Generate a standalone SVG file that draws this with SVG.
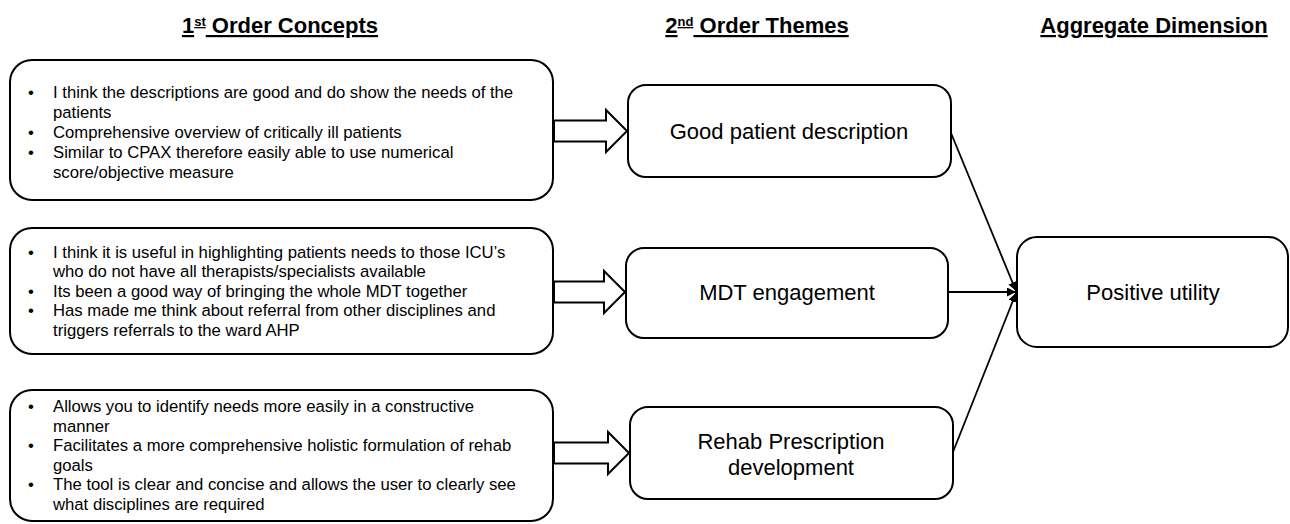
<svg xmlns="http://www.w3.org/2000/svg" width="1290" height="524" viewBox="0 0 1290 524">
<defs>
<style>
.box{fill:#fff;stroke:#000;stroke-width:2}
.hdr{font-family:"Liberation Sans",Arial,sans-serif;font-size:22px;font-weight:bold;text-anchor:middle;text-decoration:underline;fill:#000}
.sup{font-size:13px}
.body{font-family:"Liberation Sans",Arial,sans-serif;font-size:16.7px;fill:#000}
.lbl{font-family:"Liberation Sans",Arial,sans-serif;font-size:22px;fill:#000;text-anchor:middle}
.blk{fill:#fff;stroke:#000;stroke-width:2;stroke-linejoin:miter}
.con{fill:none;stroke:#000;stroke-width:1.8}
</style>
<marker id="ah" viewBox="0 0 10 10" refX="10" refY="5" markerWidth="5" markerHeight="5" orient="auto" markerUnits="strokeWidth">
<path d="M0,0 L10,5 L0,10 z" fill="#000"/>
</marker>
</defs>
<rect width="1290" height="524" fill="#fff"/>

<g id="headers">
<text class="hdr" x="280" y="33">1<tspan class="sup" dy="-7">st</tspan><tspan dy="7"> Order Concepts</tspan></text>
<text class="hdr" x="757" y="33">2<tspan class="sup" dy="-7">nd</tspan><tspan dy="7"> Order Themes</tspan></text>
<text class="hdr" x="1154" y="33">Aggregate Dimension</text>
</g>

<g id="concepts1">
<rect class="box" x="10" y="60" width="543" height="140" rx="22"/>
<text class="body">
<tspan x="28" y="98">•</tspan><tspan x="53" y="98">I think the descriptions are good and do show the needs of the</tspan>
<tspan x="53" y="118">patients</tspan>
<tspan x="28" y="138">•</tspan><tspan x="53" y="138">Comprehensive overview of critically ill patients</tspan>
<tspan x="28" y="158">•</tspan><tspan x="53" y="158">Similar to CPAX therefore easily able to use numerical</tspan>
<tspan x="53" y="178">score/objective measure</tspan>
</text>
</g>

<g id="concepts2">
<rect class="box" x="10" y="228" width="543" height="126" rx="22"/>
<text class="body">
<tspan x="28" y="258">•</tspan><tspan x="53" y="258">I think it is useful in highlighting patients needs to those ICU’s</tspan>
<tspan x="53" y="277">who do not have all therapists/specialists available</tspan>
<tspan x="28" y="297">•</tspan><tspan x="53" y="297">Its been a good way of bringing the whole MDT together</tspan>
<tspan x="28" y="316">•</tspan><tspan x="53" y="316">Has made me think about referral from other disciplines and</tspan>
<tspan x="53" y="336">triggers referrals to the ward AHP</tspan>
</text>
</g>

<g id="concepts3">
<rect class="box" x="10" y="390" width="543" height="131" rx="22"/>
<text class="body">
<tspan x="28" y="412">•</tspan><tspan x="53" y="412">Allows you to identify needs more easily in a constructive</tspan>
<tspan x="53" y="432">manner</tspan>
<tspan x="28" y="451">•</tspan><tspan x="53" y="451">Facilitates a more comprehensive holistic formulation of rehab</tspan>
<tspan x="53" y="471">goals</tspan>
<tspan x="28" y="490">•</tspan><tspan x="53" y="490">The tool is clear and concise and allows the user to clearly see</tspan>
<tspan x="53" y="510">what disciplines are required</tspan>
</text>
</g>

<g id="theme1">
<rect class="box" x="628" y="85" width="323" height="92" rx="18"/>
<text class="lbl" x="789" y="139">Good patient description</text>
</g>
<g id="theme2">
<rect class="box" x="626" y="248" width="322" height="90" rx="18"/>
<text class="lbl" x="787" y="300">MDT engagement</text>
</g>
<g id="theme3">
<rect class="box" x="630" y="407" width="323" height="92" rx="18"/>
<text class="lbl" x="791" y="449">Rehab Prescription</text>
<text class="lbl" x="791" y="475">development</text>
</g>
<g id="aggregate">
<rect class="box" x="1017" y="237" width="271" height="110" rx="20"/>
<text class="lbl" x="1153" y="300">Positive utility</text>
</g>

<g id="connectors">
<polygon class="blk" points="554,120.5 606,120.5 606,110 627,131 606,152 606,141.5 554,141.5"/>
<polygon class="blk" points="554,281.5 604,281.5 604,271 625,292 604,313 604,302.5 554,302.5"/>
<polygon class="blk" points="554,442.5 608,442.5 608,432 629,453 608,474 608,463.5 554,463.5"/>
<line class="con" x1="951" y1="133" x2="1016" y2="291" marker-end="url(#ah)"/>
<line class="con" x1="948" y1="292" x2="1016" y2="292" marker-end="url(#ah)"/>
<line class="con" x1="953" y1="452" x2="1016" y2="293" marker-end="url(#ah)"/>
</g>
</svg>
